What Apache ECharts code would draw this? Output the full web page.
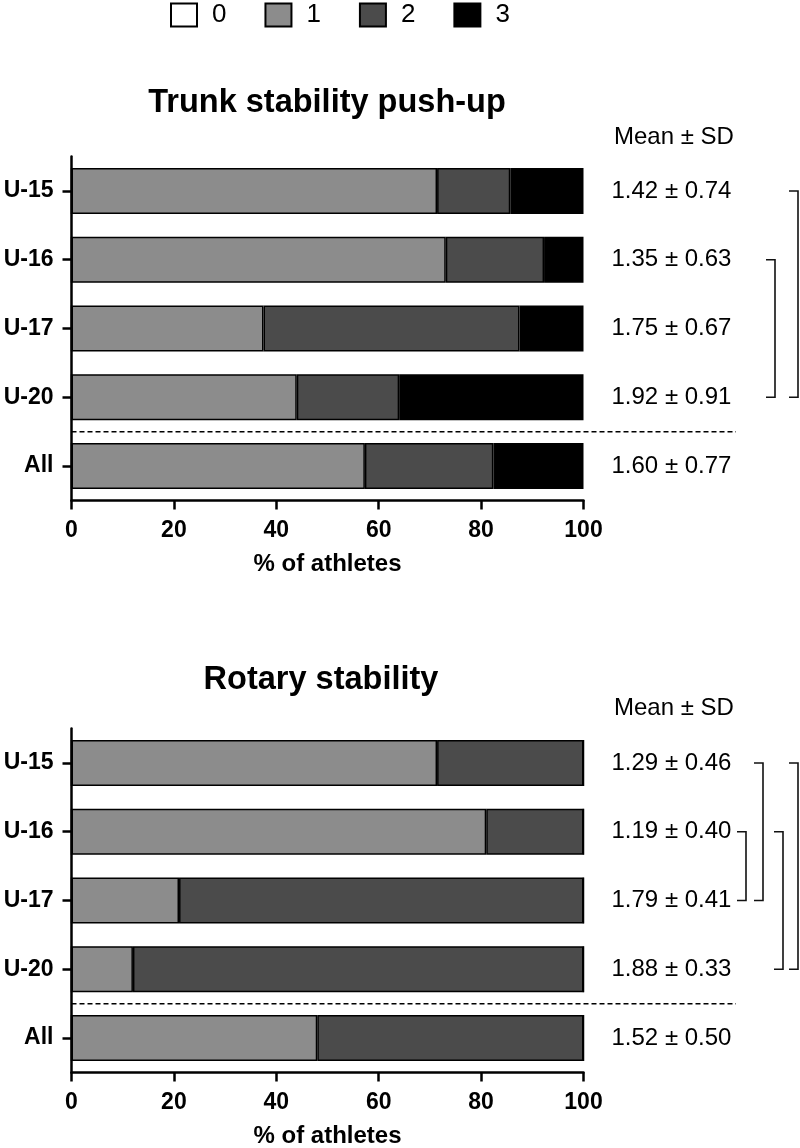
<!DOCTYPE html>
<html>
<head>
<meta charset="utf-8">
<script src="https://cdn.jsdelivr.net/npm/echarts@6/dist/echarts.min.js"></script>
<style>
  html, body { margin: 0; padding: 0; background: #fff; }
  #chart { width: 800px; height: 1148px; }
</style>
</head>
<body>
<div id="chart"></div>
<script>
// categories (top to bottom)
var groups = ["U-15", "U-16", "U-17", "U-20", "All"];
var scoreNames = ["0", "1", "2", "3"];
var scoreColors = ["#ffffff", "#8c8c8c", "#4b4b4b", "#000000"];

// Trunk stability push-up, % of athletes per score
var pushScore0 = [0, 0, 0, 0, 0];
var pushScore1 = [71.4, 73.1, 37.5, 44.0, 57.3];
var pushScore2 = [14.3, 19.2, 50.0, 20.0, 25.1];
var pushScore3 = [14.3, 7.7, 12.5, 36.0, 17.6];
var pushMeans = ["1.42 \u00b1 0.74", "1.35 \u00b1 0.63", "1.75 \u00b1 0.67", "1.92 \u00b1 0.91", "1.60 \u00b1 0.77"];

// Rotary stability
var rotScore0 = [0, 0, 0, 0, 0];
var rotScore1 = [71.4, 81.0, 21.0, 12.0, 48.0];
var rotScore2 = [28.6, 19.0, 79.0, 88.0, 52.0];
var rotScore3 = [0, 0, 0, 0, 0];
var rotMeans = ["1.29 \u00b1 0.46", "1.19 \u00b1 0.40", "1.79 \u00b1 0.41", "1.88 \u00b1 0.33", "1.52 \u00b1 0.50"];

var xTicks = [0, 20, 40, 60, 80, 100];

// significance brackets: [from group, to group, x position]
var pushBrackets = [["U-15", "U-20", 798], ["U-16", "U-20", 775]];
var rotBrackets = [["U-15", "U-17", 763], ["U-16", "U-17", 746], ["U-16", "U-20", 783], ["U-15", "U-20", 798]];

var FONT = "Liberation Sans, Arial, Helvetica, sans-serif";

var chart = echarts.init(document.getElementById("chart"), null, { renderer: "canvas" });

function xAxisFor(gi) {
  return {
    type: "value",
    gridIndex: gi,
    min: xTicks[0],
    max: xTicks[xTicks.length - 1],
    interval: 20,
    name: "% of athletes",
    nameLocation: "middle",
    nameGap: 52,
    nameTextStyle: { color: "#000", fontWeight: "bold", fontSize: 24, fontFamily: FONT },
    axisLine: { show: true, lineStyle: { color: "#000", width: 2.5 } },
    axisTick: { show: true, length: 9, lineStyle: { color: "#000", width: 2.5 } },
    axisLabel: { color: "#000", fontWeight: "bold", fontSize: 23, fontFamily: FONT, margin: 19 },
    splitLine: { show: false }
  };
}

function yAxisFor(gi) {
  return {
    type: "category",
    gridIndex: gi,
    data: groups,
    inverse: true,
    axisLine: { show: true, onZero: false, lineStyle: { color: "#000", width: 2.5 } },
    axisTick: { show: true, length: 9, alignWithLabel: true, lineStyle: { color: "#000", width: 2.5 } },
    axisLabel: { color: "#000", fontWeight: "bold", fontSize: 23, fontFamily: FONT, margin: 18 }
  };
}

function meanAxisFor(gi, means) {
  return {
    type: "category",
    gridIndex: gi,
    position: "right",
    data: means,
    inverse: true,
    axisLine: { show: false },
    axisTick: { show: false },
    axisLabel: { color: "#000", fontSize: 24, fontFamily: FONT, margin: 28 }
  };
}

function barSeries(name, data, gi, stack, color) {
  return {
    name: name,
    type: "bar",
    stack: stack,
    xAxisIndex: gi,
    yAxisIndex: gi === 0 ? 0 : 2,
    data: data,
    barCategoryGap: "33%",
    itemStyle: { color: color, borderColor: "#000", borderWidth: 1.5 },
    emphasis: { disabled: true },
    silent: true
  };
}

var pushData = [pushScore0, pushScore1, pushScore2, pushScore3];
var rotData = [rotScore0, rotScore1, rotScore2, rotScore3];
var series = [];
for (var i = 0; i < 4; i++) {
  series.push(barSeries(scoreNames[i], pushData[i], 0, "push", scoreColors[i]));
}
for (var j = 0; j < 4; j++) {
  series.push(barSeries(scoreNames[j], rotData[j], 1, "rot", scoreColors[j]));
}

chart.setOption({
  animation: false,
  backgroundColor: "#fff",
  textStyle: { fontFamily: FONT },
  title: [
    { text: "Trunk stability push-up", left: 322, top: 82, textAlign: "center",
      textStyle: { color: "#000", fontWeight: "bold", fontSize: 32.5, fontFamily: FONT } },
    { text: "Mean \u00b1 SD", left: 609, top: 120,
      textStyle: { color: "#000", fontWeight: "normal", fontSize: 24, fontFamily: FONT } },
    { text: "Rotary stability", left: 316, top: 659, textAlign: "center",
      textStyle: { color: "#000", fontWeight: "bold", fontSize: 32.5, fontFamily: FONT } },
    { text: "Mean \u00b1 SD", left: 609, top: 691,
      textStyle: { color: "#000", fontWeight: "normal", fontSize: 24, fontFamily: FONT } }
  ],
  legend: {
    data: scoreNames,
    left: 170,
    top: 2,
    padding: 0,
    itemWidth: 26,
    itemHeight: 23,
    itemGap: 38,
    icon: "rect",
    selectedMode: false,
    textStyle: { color: "#000", fontSize: 26, fontFamily: FONT, padding: [0, 0, 0, 10] }
  },
  grid: [
    { left: 71.5, right: 216.5, top: 156.6, height: 343.8, outerBoundsMode: "none" },
    { left: 71.5, right: 216.5, top: 728.6, height: 343.8, outerBoundsMode: "none" }
  ],
  xAxis: [xAxisFor(0), xAxisFor(1)],
  yAxis: [yAxisFor(0), meanAxisFor(0, pushMeans), yAxisFor(1), meanAxisFor(1, rotMeans)],
  series: series
});

// dashed separator above "All" and the significance brackets
function yOf(axisIdx, cat) {
  return chart.convertToPixel({ yAxisIndex: axisIdx }, cat);
}

var graphics = [];
[[0, pushBrackets], [2, rotBrackets]].forEach(function (pair) {
  var ax = pair[0];
  var x0 = chart.convertToPixel({ xAxisIndex: ax === 0 ? 0 : 1 }, 0);
  var ySep = (yOf(ax, "U-20") + yOf(ax, "All")) / 2;
  graphics.push({
    type: "line",
    shape: { x1: x0, y1: ySep, x2: 736, y2: ySep },
    style: { stroke: "#000", lineWidth: 1.5, lineDash: [5, 3] },
    silent: true
  });
  pair[1].forEach(function (b) {
    var y1 = yOf(ax, b[0]);
    var y2 = yOf(ax, b[1]);
    var x = b[2];
    graphics.push({
      type: "polyline",
      shape: { points: [[x - 9, y1], [x, y1], [x, y2], [x - 9, y2]] },
      style: { stroke: "#111", lineWidth: 1.6, fill: null },
      silent: true
    });
  });
});
chart.setOption({ graphic: graphics });
</script>
</body>
</html>
